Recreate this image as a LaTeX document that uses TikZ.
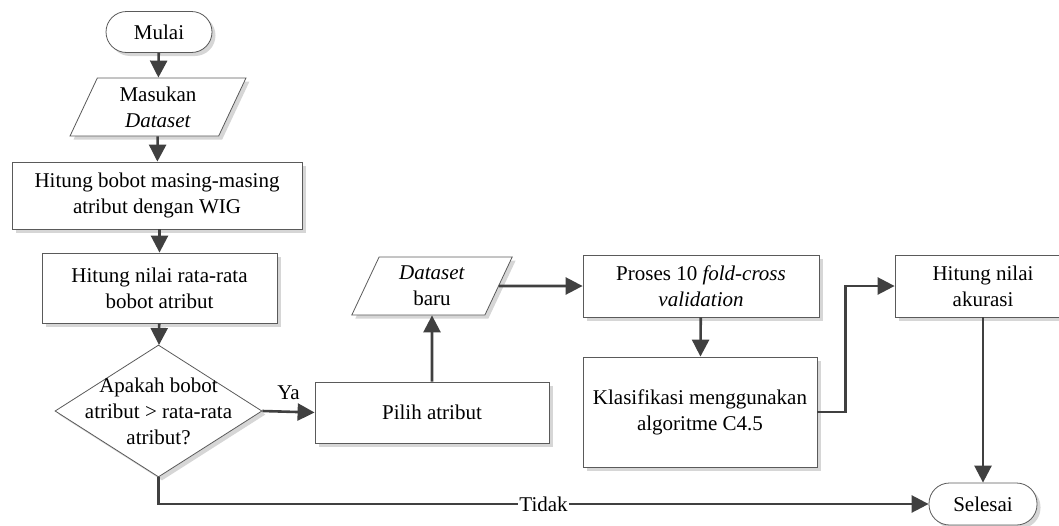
\documentclass[tikz,border=0pt]{standalone}
\usepackage{fontspec}
\setmainfont{Liberation Serif}
\usepackage{tikz}
\usetikzlibrary{positioning, shapes.geometric, shadows, arrows.meta}

\definecolor{garis}{HTML}{404040}
\definecolor{tepi}{HTML}{5A5A5A}

\begin{document}
\begin{tikzpicture}[x=1pt, y=-1pt, font=\fontsize{21}{26}\selectfont,
  bayang/.style={drop shadow={shadow xshift=3.5pt, shadow yshift=-3.5pt, fill=black!16, opacity=1}},
  proses/.style={rectangle, draw=tepi, line width=0.8pt, fill=white, bayang, align=center, inner sep=0pt},
  io/.style={trapezium, trapezium left angle=67, trapezium right angle=113, trapezium stretches=true, draw=tepi, line width=0.8pt, fill=white, bayang, align=center, inner sep=0pt, minimum height=58pt},
  terminal/.style={rectangle, rounded corners=20.5pt, draw=tepi, line width=0.8pt, fill=white, bayang, align=center, inner sep=0pt, minimum height=41pt},
  keputusan/.style={diamond, draw=tepi, line width=0.8pt, fill=white, bayang, inner sep=0pt, minimum width=207pt, minimum height=132pt},
  panah/.style={draw=garis, line width=2.6pt, -{Triangle[length=17pt, width=17pt]}}]

  \useasboundingbox (0,0) rectangle (1059,525);

  % kolom kiri
  \node[terminal, minimum width=106pt] (mulai) at (159,32) {Mulai};
  \node[io, minimum width=176pt] (masukan) at (158,107) {Masukan\\\textit{Dataset}};
  \node[proses, minimum width=290pt, minimum height=67pt] (bobot) at (157,195.5) {Hitung bobot masing-masing\\atribut dengan WIG};
  \node[proses, minimum width=235pt, minimum height=70pt] (rerata) at (159.5,288) {Hitung nilai rata-rata\\bobot atribut};
  \node[keputusan] (cek) at (158.5,411) {};
  \node[align=center] (cektext) at (cek) {Apakah bobot\\atribut > rata-rata\\atribut?};

  % kolom tengah dan kanan
  \node[proses, minimum width=234pt, minimum height=61pt] (pilih) at (432,412.5) {Pilih atribut};
  \node[io, minimum width=161pt] (baru) at (432,286) {\textit{Dataset}\\baru};
  \node[proses, minimum width=236pt, minimum height=62pt] (validasi) at (701,286) {Proses 10 \textit{fold-cross}\\\textit{validation}};
  \node[proses, minimum width=234pt, minimum height=110pt] (klasifikasi) at (700,412) {Klasifikasi menggunakan\\algoritme C4.5};
  \node[proses, minimum width=176pt, minimum height=62pt] (akurasi) at (983,286) {Hitung nilai\\akurasi};
  \node[terminal, minimum width=108pt, minimum height=42pt] (selesai) at (983,504) {Selesai};

  % alur
  \draw[panah] (mulai) -- (masukan);
  \draw[panah] (masukan) -- (bobot);
  \draw[panah] (bobot.south -| rerata) -- (rerata);
  \draw[panah] (rerata) -- (cek);
  \draw[panah] (cek.east) -- node[above=7pt, pos=0.5] {Ya} (pilih.west);
  \draw[panah] (pilih) -- (baru);
  \draw[panah] (baru.east) -- (validasi.west);
  \draw[panah] (validasi) -- (klasifikasi);
  \draw[panah] (klasifikasi.east) -- ++(28,0) |- (akurasi.west);
  \draw[panah] (akurasi) -- (selesai);
  \draw[panah] (cek.south) |- node[pos=0.75, fill=white, inner sep=1pt] {Tidak} (selesai.west);
\end{tikzpicture}
\end{document}
